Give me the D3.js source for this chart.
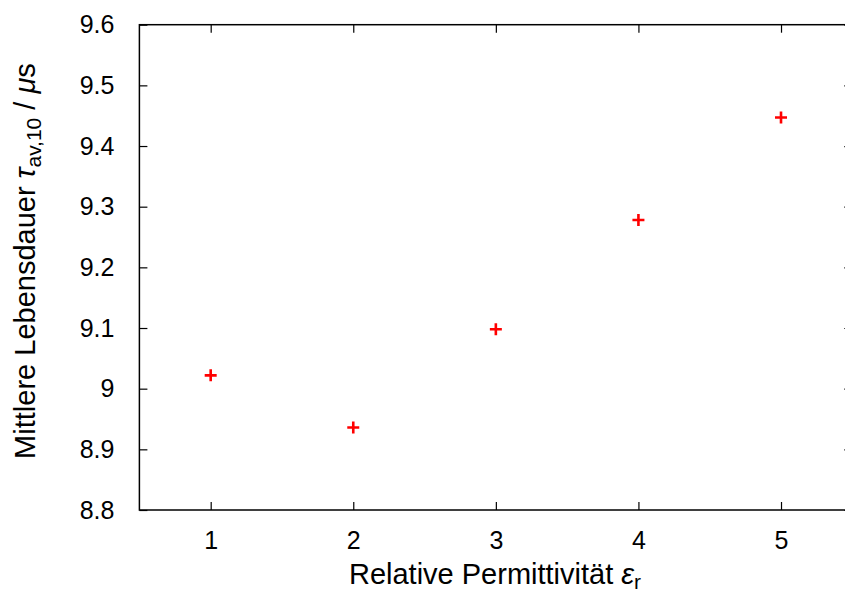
<!DOCTYPE html>
<html>
<head>
<meta charset="utf-8">
<script src="https://cdn.jsdelivr.net/npm/d3@7"></script>
<style>
  body { margin: 0; background: #fff; }
  text { font-family: "Liberation Sans", Arial, sans-serif; fill: #000; }
</style>
</head>
<body>
<div id="chart"></div>
<script>
// data
const permittivity = [1, 2, 3, 4, 5];
const lifetime = [9.022, 8.936, 9.098, 9.278, 9.447];
const xTicks = [1, 2, 3, 4, 5];
const yTicks = [8.8, 8.9, 9.0, 9.1, 9.2, 9.3, 9.4, 9.5, 9.6];

const width = 845, height = 592;
const margin = { top: 24.7, right: -7.3, bottom: 82, left: 139.4 };
const innerW = width - margin.left - margin.right;
const innerH = height - margin.top - margin.bottom;

const svg = d3.select('#chart').append('svg')
    .attr('width', width)
    .attr('height', height);

const g = svg.append('g')
    .attr('transform', `translate(${margin.left},${margin.top})`);

const x = d3.scaleLinear().domain([0.5, 5.5]).range([0, innerW]);
const y = d3.scaleLinear().domain([8.8, 9.6]).range([innerH, 0]);

const tickLen = 8;
const fmt = d => (d === 9 ? '9' : d3.format('.1f')(d));

// axes: ticks inside, mirrored on top and right
const styleAxis = sel => {
    sel.select('.domain').remove();
    sel.selectAll('.tick line').attr('stroke', '#000').attr('stroke-width', 1.2);
    sel.selectAll('.tick text').style('font-size', '25px');
};

g.append('g')
    .attr('transform', `translate(0,${innerH})`)
    .call(d3.axisBottom(x).tickValues(xTicks).tickSize(-tickLen).tickPadding(21).tickFormat(d3.format('d')))
    .call(styleAxis);

g.append('g')
    .call(d3.axisTop(x).tickValues(xTicks).tickSize(-tickLen).tickFormat(''))
    .call(styleAxis);

g.append('g')
    .call(d3.axisLeft(y).tickValues(yTicks).tickSize(-tickLen).tickPadding(25).tickFormat(fmt))
    .call(styleAxis);

g.append('g')
    .attr('transform', `translate(${innerW},0)`)
    .call(d3.axisRight(y).tickValues(yTicks).tickSize(-tickLen).tickFormat(''))
    .call(styleAxis);

// frame
g.append('rect')
    .attr('width', innerW)
    .attr('height', innerH)
    .attr('fill', 'none')
    .attr('stroke', '#000')
    .attr('stroke-width', 1.5);

// red plus markers
const arm = 6;
const pts = permittivity.map((p, i) => ({ x: p, y: lifetime[i] }));
g.selectAll('.pt')
    .data(pts)
  .join('path')
    .attr('class', 'pt')
    .attr('d', d => {
        const cx = x(d.x), cy = y(d.y);
        return `M${cx - arm},${cy}H${cx + arm}M${cx},${cy - arm}V${cy + arm}`;
    })
    .attr('stroke', '#ff0000')
    .attr('stroke-width', 2.6)
    .attr('fill', 'none');

// x label
const xl = svg.append('text')
    .attr('x', 495)
    .attr('y', 584)
    .attr('text-anchor', 'middle')
    .style('font-size', '29px');
xl.append('tspan').text('Relative Permittivität ');
xl.append('tspan').style('font-style', 'italic').text('ε');
xl.append('tspan').attr('dy', 5).style('font-size', '21px').text('r');

// y label
const yl = svg.append('text')
    .attr('transform', 'translate(35,261) rotate(-90)')
    .attr('text-anchor', 'middle')
    .style('font-size', '29px');
yl.append('tspan').text('Mittlere Lebensdauer ');
yl.append('tspan').style('font-style', 'italic').text('τ');
yl.append('tspan').attr('dy', 6).style('font-size', '21px').text('av,10');
yl.append('tspan').attr('dy', -6).text(' / ');
yl.append('tspan').style('font-style', 'italic').text('μ');
yl.append('tspan').text('s');
</script>
</body>
</html>
